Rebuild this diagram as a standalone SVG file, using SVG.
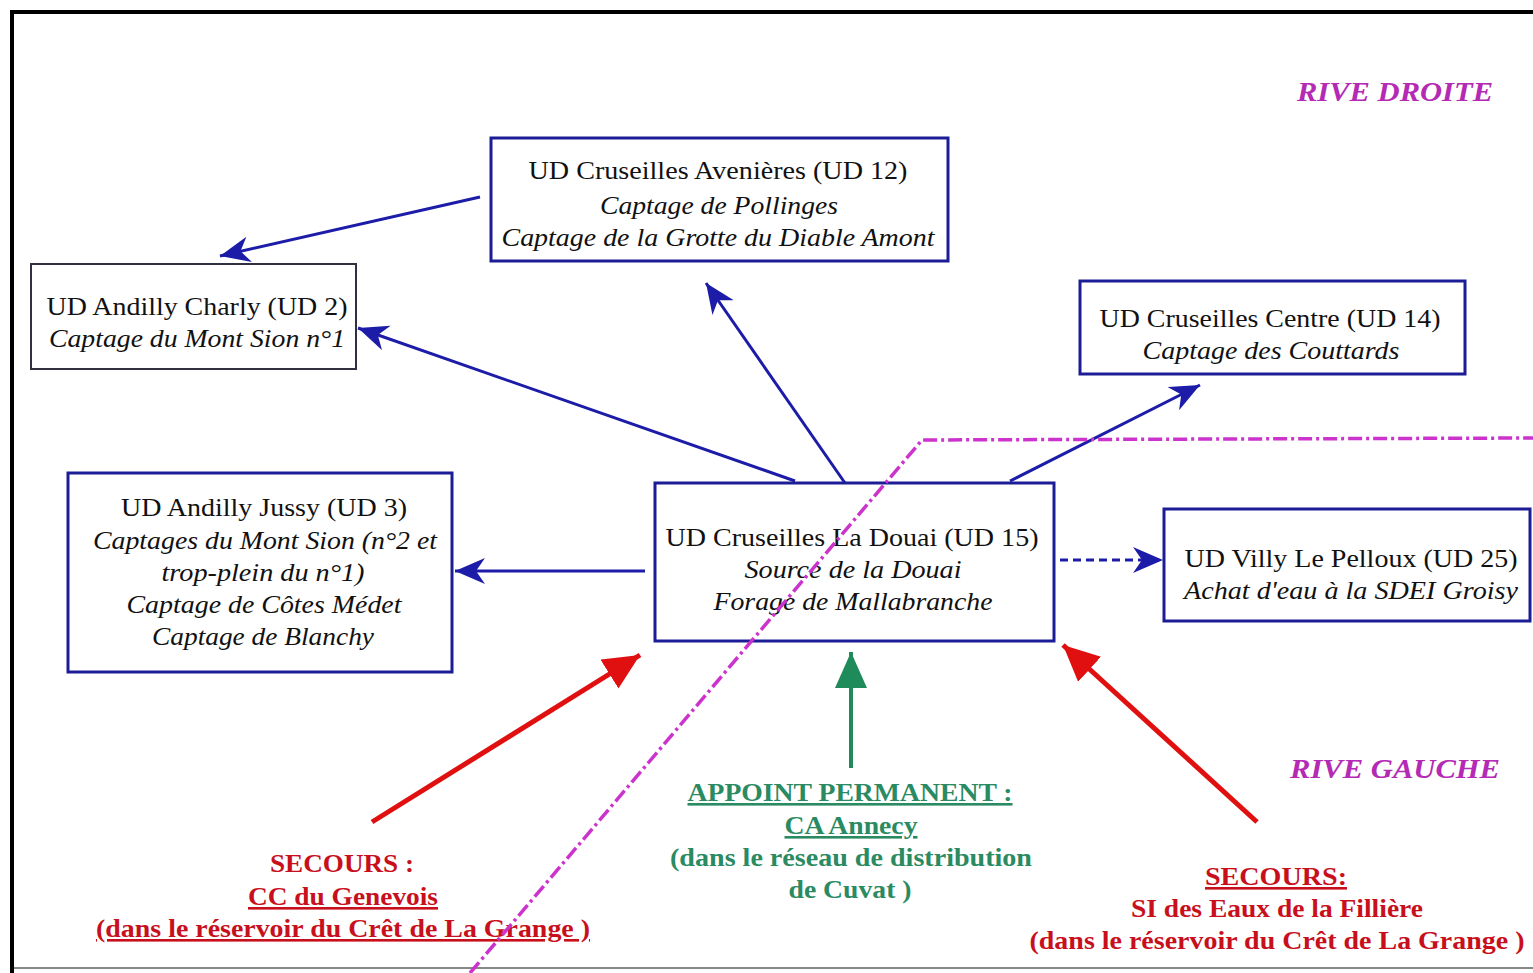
<svg xmlns="http://www.w3.org/2000/svg" width="1533" height="973" viewBox="0 0 1533 973">
<style>
.box{fill:#fff;stroke:#1c1c96;stroke-width:3}
.box2{fill:#fff;stroke:#303040;stroke-width:2}
.t{font-family:"Liberation Serif",serif;font-size:26px;fill:#111;text-anchor:middle}
.i{font-style:italic}
.rive{font-family:"Liberation Serif",serif;font-size:28px;font-weight:bold;font-style:italic;fill:#b42ab4;text-anchor:middle}
.red{font-family:"Liberation Serif",serif;font-size:26px;font-weight:bold;fill:#c8101c;text-anchor:middle}
.grn{font-family:"Liberation Serif",serif;font-size:26px;font-weight:bold;fill:#2a8a62;text-anchor:middle}
.u{text-decoration:underline}
.blue{stroke:#1c1ca8;stroke-width:3;fill:none}
</style>
<defs>
<marker id="ab" markerUnits="userSpaceOnUse" markerWidth="34" markerHeight="28" refX="30" refY="13" orient="auto">
<path d="M0,0 L30,13 L0,26 L9,13 z" fill="#1c1ca8"/>
</marker>
<marker id="ar" markerUnits="userSpaceOnUse" markerWidth="40" markerHeight="36" refX="36" refY="17" orient="auto">
<path d="M0,0 L36,17 L0,34 z" fill="#e01010"/>
</marker>
<marker id="ag" markerUnits="userSpaceOnUse" markerWidth="40" markerHeight="36" refX="36" refY="16" orient="auto">
<path d="M0,0 L36,16 L0,32 z" fill="#1f8a5a"/>
</marker>
</defs>
<rect width="1533" height="973" fill="#fff"/>
<g id="frame">
<rect x="10" y="10" width="1523" height="4" fill="#000"/>
<rect x="10" y="10" width="4" height="963" fill="#000"/>
<rect x="14" y="967" width="1519" height="2" fill="#888"/>
</g>
<g id="connectors">
<line class="blue" x1="480" y1="197" x2="220" y2="256" marker-end="url(#ab)"/>
<line class="blue" x1="795" y1="481" x2="358" y2="328" marker-end="url(#ab)"/>
<line class="blue" x1="845" y1="483" x2="706" y2="283" marker-end="url(#ab)"/>
<line class="blue" x1="1010" y1="481" x2="1200" y2="385" marker-end="url(#ab)"/>
<line class="blue" x1="645" y1="571" x2="455" y2="571" stroke-width="2.5" marker-end="url(#ab)"/>
<line class="blue" x1="1060" y1="560" x2="1163" y2="560" stroke-width="2" stroke-dasharray="8,5" marker-end="url(#ab)"/>
<line x1="372" y1="822" x2="640" y2="655" stroke="#e01010" stroke-width="5" marker-end="url(#ar)"/>
<line x1="851" y1="768" x2="851" y2="652" stroke="#1f8a5a" stroke-width="4" marker-end="url(#ag)"/>
<line x1="1257" y1="822" x2="1063" y2="645" stroke="#e01010" stroke-width="5" marker-end="url(#ar)"/>
</g>
<g id="ud12">
<rect class="box" x="491" y="138" width="457" height="123"/>
<text class="t" x="718" y="179" textLength="379" lengthAdjust="spacingAndGlyphs">UD Cruseilles Avenières (UD 12)</text>
<text class="t i" x="719" y="214" textLength="238" lengthAdjust="spacingAndGlyphs">Captage de Pollinges</text>
<text class="t i" x="718" y="246" textLength="433" lengthAdjust="spacingAndGlyphs">Captage de la Grotte du Diable Amont</text>
</g>
<g id="ud2">
<rect class="box2" x="31" y="264" width="325" height="105"/>
<text class="t" x="197" y="315" textLength="301" lengthAdjust="spacingAndGlyphs">UD Andilly Charly (UD 2)</text>
<text class="t i" x="197" y="347" textLength="296" lengthAdjust="spacingAndGlyphs">Captage du Mont Sion n°1</text>
</g>
<g id="ud14">
<rect class="box" x="1080" y="281" width="385" height="93"/>
<text class="t" x="1270" y="327" textLength="341" lengthAdjust="spacingAndGlyphs">UD Cruseilles Centre (UD 14)</text>
<text class="t i" x="1271" y="359" textLength="257" lengthAdjust="spacingAndGlyphs">Captage des Couttards</text>
</g>
<g id="ud3">
<rect class="box" x="68" y="473" width="384" height="199"/>
<text class="t" x="264" y="516" textLength="286" lengthAdjust="spacingAndGlyphs">UD Andilly Jussy (UD 3)</text>
<text class="t i" x="265" y="549" textLength="344" lengthAdjust="spacingAndGlyphs">Captages du Mont Sion (n°2 et</text>
<text class="t i" x="263" y="581" textLength="203" lengthAdjust="spacingAndGlyphs">trop-plein du n°1)</text>
<text class="t i" x="264" y="613" textLength="275" lengthAdjust="spacingAndGlyphs">Captage de Côtes Médet</text>
<text class="t i" x="263" y="645" textLength="222" lengthAdjust="spacingAndGlyphs">Captage de Blanchy</text>
</g>
<g id="ud15">
<rect class="box" x="655" y="483" width="399" height="158"/>
<text class="t" x="852" y="546" textLength="373" lengthAdjust="spacingAndGlyphs">UD Cruseilles La Douai (UD 15)</text>
<text class="t i" x="853" y="578" textLength="217" lengthAdjust="spacingAndGlyphs">Source de la Douai</text>
<text class="t i" x="853" y="610" textLength="279" lengthAdjust="spacingAndGlyphs">Forage de Mallabranche</text>
</g>
<g id="ud25">
<rect class="box" x="1164" y="509" width="366" height="112"/>
<text class="t" x="1351" y="567" textLength="333" lengthAdjust="spacingAndGlyphs">UD Villy Le Pelloux (UD 25)</text>
<text class="t i" x="1351" y="599" textLength="334" lengthAdjust="spacingAndGlyphs">Achat d'eau à la SDEI Groisy</text>
</g>
<g id="rive-droite">
<text class="rive" x="1395" y="101" textLength="196" lengthAdjust="spacingAndGlyphs">RIVE DROITE</text>
</g>
<g id="rive-gauche">
<text class="rive" x="1395" y="778" textLength="210" lengthAdjust="spacingAndGlyphs">RIVE GAUCHE</text>
</g>
<g id="secours-gauche">
<text class="red" x="342" y="872" textLength="144" lengthAdjust="spacingAndGlyphs">SECOURS :</text>
<text class="red u" x="343" y="905" textLength="190" lengthAdjust="spacingAndGlyphs">CC du Genevois</text>
<text class="red u" x="343" y="937" textLength="494" lengthAdjust="spacingAndGlyphs">(dans le réservoir du Crêt de La Grange )</text>
</g>
<g id="appoint">
<text class="grn u" x="850" y="801" textLength="325" lengthAdjust="spacingAndGlyphs">APPOINT PERMANENT :</text>
<text class="grn u" x="851" y="834" textLength="133" lengthAdjust="spacingAndGlyphs">CA Annecy</text>
<text class="grn" x="851" y="866" textLength="362" lengthAdjust="spacingAndGlyphs">(dans le réseau de distribution</text>
<text class="grn" x="850" y="898" textLength="123" lengthAdjust="spacingAndGlyphs">de Cuvat )</text>
</g>
<g id="secours-droite">
<text class="red u" x="1276" y="885" textLength="142" lengthAdjust="spacingAndGlyphs">SECOURS:</text>
<text class="red" x="1277" y="917" textLength="292" lengthAdjust="spacingAndGlyphs">SI des Eaux de la Fillière</text>
<text class="red" x="1277" y="949" textLength="495" lengthAdjust="spacingAndGlyphs">(dans le réservoir du Crêt de La Grange )</text>
</g>
<g id="boundary">
<path d="M470,973 L922,440 L1533,438" fill="none" stroke="#cc33cc" stroke-width="3.5" stroke-dasharray="14,4,3,4"/>
</g>
</svg>
